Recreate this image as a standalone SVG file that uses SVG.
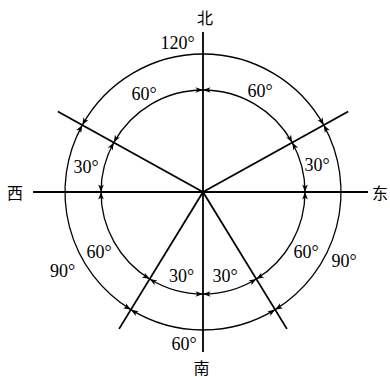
<svg xmlns="http://www.w3.org/2000/svg" width="390" height="377" viewBox="0 0 390 377">
<style>
.ln{stroke:#000;stroke-width:1.8;fill:none;stroke-linecap:butt}
.arc{stroke:#000;stroke-width:1.3;fill:none;marker-start:url(#ah);marker-end:url(#ah)}
.t{font-family:"Liberation Serif","Times New Roman",serif;font-size:18px;fill:#000;text-anchor:middle}
.c{font-family:"Liberation Serif","Noto Sans CJK SC",serif;font-size:16px;fill:#000;text-anchor:middle}
</style>
<defs>
<marker id="ah" markerUnits="userSpaceOnUse" markerWidth="10" markerHeight="8" viewBox="-8 -4 9 8" refX="0" refY="0" orient="auto-start-reverse">
<path d="M0,0 L-7.5,-2.8 L-5.5,0 L-7.5,2.8 Z" fill="#000"/>
</marker>
</defs>
<rect width="390" height="377" fill="#fff"/>
<g id="lines">
<line class="ln" x1="203" y1="32" x2="203" y2="352"/>
<line class="ln" x1="33" y1="192" x2="368" y2="192"/>
<line class="ln" x1="203" y1="192" x2="57.8" y2="111.5"/>
<line class="ln" x1="203" y1="192" x2="348.2" y2="111.5"/>
<line class="ln" x1="203" y1="192" x2="119.1" y2="328.9"/>
<line class="ln" x1="203" y1="192" x2="286.9" y2="328.9"/>
</g>
<g id="connectors">
<path class="arc" d="M203,90 A102,102 0 0 1 292.21,142.55"/>
<path class="arc" d="M292.21,142.55 A102,102 0 0 1 305,192"/>
<path class="arc" d="M305,192 A102,102 0 0 1 256.3,278.97"/>
<path class="arc" d="M256.3,278.97 A102,102 0 0 1 203,294"/>
<path class="arc" d="M203,294 A102,102 0 0 1 149.7,278.97"/>
<path class="arc" d="M149.7,278.97 A102,102 0 0 1 101,192"/>
<path class="arc" d="M101,192 A102,102 0 0 1 113.79,142.55"/>
<path class="arc" d="M113.79,142.55 A102,102 0 0 1 203,90"/>
<path class="arc" d="M82.31,125.1 A138,138 0 0 1 323.69,125.1"/>
<path class="arc" d="M323.69,125.1 A138,138 0 0 1 275.11,309.66"/>
<path class="arc" d="M275.11,309.66 A138,138 0 0 1 130.89,309.66"/>
<path class="arc" d="M130.89,309.66 A138,138 0 0 1 82.31,125.1"/>
</g>
<g id="labels">
<text class="t" x="177.5" y="48.5">120°</text>
<text class="t" x="144" y="100">60°</text>
<text class="t" x="260" y="97">60°</text>
<text class="t" x="86" y="173">30°</text>
<text class="t" x="317" y="171">30°</text>
<text class="t" x="99" y="258">60°</text>
<text class="t" x="306" y="258">60°</text>
<text class="t" x="62.5" y="277">90°</text>
<text class="t" x="344" y="267">90°</text>
<text class="t" x="181.5" y="282">30°</text>
<text class="t" x="225" y="282">30°</text>
<text class="t" x="184" y="350">60°</text>
</g>
<g id="directions">
<text id="north" class="c" x="205" y="24">北</text>
<text id="west" class="c" x="15" y="199">西</text>
<text id="east" class="c" x="380" y="199">东</text>
<text id="south" class="c" x="201.5" y="374">南</text>
</g>
</svg>
